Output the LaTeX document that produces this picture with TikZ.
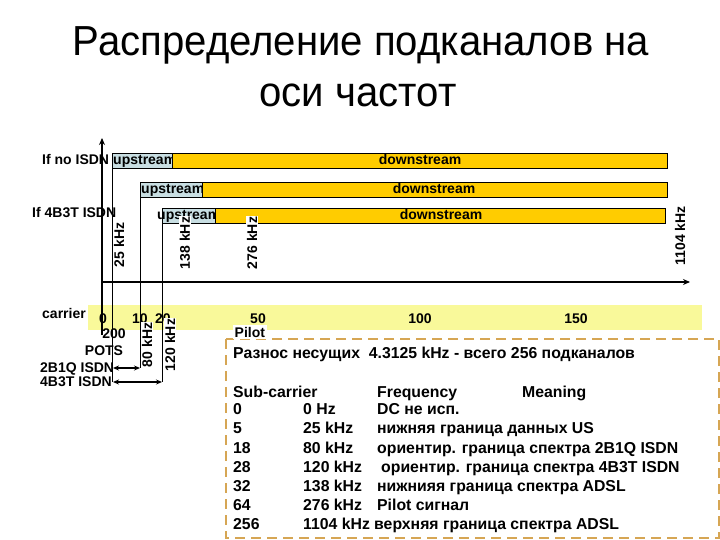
\documentclass[tikz,border=0pt]{standalone}
\usepackage{fontspec}
\setmainfont{Liberation Sans}
\usetikzlibrary{arrows.meta}
\definecolor{upfill}{RGB}{200,222,226}
\definecolor{downfill}{RGB}{255,204,0}
\definecolor{band}{RGB}{249,249,154}
\definecolor{dashc}{RGB}{214,166,84}
\begin{document}
\begin{tikzpicture}[x=1pt,y=-1pt,
  bar/.style={draw=black, line width=0.8pt, inner sep=0pt, minimum height=15pt, anchor=north west},
  upbar/.style={bar, fill=upfill},
  downbar/.style={bar, fill=downfill},
  lbl/.style={font=\fontsize{14}{16}\selectfont\bfseries, inner sep=0pt, anchor=base},
  lblw/.style={lbl, anchor=base west},
  vlbl/.style={font=\fontsize{14}{16}\selectfont\bfseries, rotate=90, fill=white, inner sep=1pt},
  tbl/.style={font=\fontsize{15.8}{17}\selectfont\bfseries, inner sep=0pt, anchor=base west},
  ttl/.style={font=\fontsize{42}{48}\selectfont, inner sep=0pt, xscale=0.955},
  axis/.style={line width=1.6pt, -{Stealth[length=7pt,width=6pt]}},
  guide/.style={line width=0.8pt},
  dbl/.style={line width=1.4pt, {Stealth[length=6pt,width=5pt]}-{Stealth[length=6pt,width=5pt]}}
]
\useasboundingbox (0,0) rectangle (720,540);
% title
\node[ttl] (t1) at (361,45) {Распределение подканалов на};
\node[ttl] (t2) at (358,95) {оси частот};

% carrier band
\fill[band] (88,305) rectangle (702,330);

% bars
\node[upbar, minimum width=60pt] (up1) at (112,153) {};
\node[lblw] (u1) at (113,165) {upstream};
\node[downbar, minimum width=495pt] (dn1) at (172,153) {};
\node[lbl] (d1) at (420,165) {downstream};

\node[upbar, minimum width=62pt] (up2) at (140,182) {};
\node[lblw] (u2) at (141,194) {upstream};
\node[downbar, minimum width=465pt] (dn2) at (202,182) {};
\node[lbl] (d2) at (434,194) {downstream};

\node[upbar, minimum width=53pt] (up3) at (162,208) {};
\node[lblw] (u3) at (157,220) {upstream};
\node[downbar, minimum width=450pt] (dn3) at (215,208) {};
\node[lbl] (d3) at (441,220) {downstream};

\node[lblw] (noisdn) at (42,165) {If no ISDN};
\node[lblw] (isdn4) at (32,218) {If 4B3T ISDN};

% guide lines
\coordinate (g25) at (112,382);
\coordinate (g80) at (140,368);
\coordinate (g120) at (162,382);
\draw[guide] (up1.south west) -- (g25);
\draw[guide] (up2.south west) -- (g80);
\draw[guide] (up3.south west) -- (g120);

% axes
\coordinate (o) at (102,282);
\coordinate (ybot) at (102,335);
\coordinate (ytop) at (102,138);
\coordinate (xend) at (690,282);
\draw[axis] (ybot) -- (ytop);
\draw[axis] (o) -- (xend);

% rotated labels
\node[vlbl] (k25) at (119,245) {25 kHz};
\node[vlbl] (k138) at (185,243) {138 kHz};
\node[vlbl] (k276) at (252,243) {276 kHz};
\node[vlbl] (k1104) at (680,236) {1104 kHz};

% carrier scale
\node[lblw] (car) at (42,318) {carrier};
\node[lbl] (c0) at (103,323) {0};
\node[lbl] (c10) at (140,323) {10};
\node[lbl] (c20) at (163,323) {20};
\node[lbl] (c50) at (258,323) {50};
\node[lbl] (c100) at (420,323) {100};
\node[lbl] (c150) at (576,323) {150};
\node[lbl] (c200) at (114,338) {200};
\node[lbl] (pots) at (104,355) {POTS};
\node[lblw] (i2b) at (40,372) {2B1Q ISDN};
\node[lblw] (i4b) at (40,386) {4B3T ISDN};
\node[vlbl] (k80) at (147,345) {80 kHz};
\node[vlbl] (k120) at (170,345) {120 kHz};

\coordinate (a2l) at (113,368);
\coordinate (a4l) at (113,382);
\draw[dbl] (a2l) -- (g80);
\draw[dbl] (a4l) -- (g120);

% dashed box
\draw[dashc, line width=1.5pt, dash pattern=on 10pt off 6pt] (226,339) rectangle (719,538);
\node[lblw, fill=white, inner sep=1.5pt] (pilot) at (233,337) {Pilot};

\node[tbl] (sp) at (233,358) {Разнос несущих\ \ 4.3125 kHz - всего 256 подканалов};
\node[tbl] (h1) at (233,397) {Sub-carrier};
\node[tbl] (h2) at (377,397) {Frequency};
\node[tbl] (h3) at (522,397) {Meaning};

\node[tbl] (r1a) at (233,414) {0};
\node[tbl] (r1b) at (303,414) {0 Hz};
\node[tbl] (r1c) at (377,414) {DC не исп.};
\node[tbl] (r2a) at (233,433) {5};
\node[tbl] (r2b) at (303,433) {25 kHz};
\node[tbl] (r2c) at (377,433) {нижняя граница данных US};
\node[tbl] (r3a) at (233,453) {18};
\node[tbl] (r3b) at (303,453) {80 kHz};
\node[tbl] (r3c) at (377,453) {ориентир. граница спектра 2B1Q ISDN};
\node[tbl] (r4a) at (233,472) {28};
\node[tbl] (r4b) at (303,472) {120 kHz};
\node[tbl] (r4c) at (381,472) {ориентир. граница спектра 4B3T ISDN};
\node[tbl] (r5a) at (233,491) {32};
\node[tbl] (r5b) at (303,491) {138 kHz};
\node[tbl] (r5c) at (377,491) {нижнияя граница спектра ADSL};
\node[tbl] (r6a) at (233,510) {64};
\node[tbl] (r6b) at (303,510) {276 kHz};
\node[tbl] (r6c) at (377,510) {Pilot сигнал};
\node[tbl] (r7a) at (233,529) {256};
\node[tbl] (r7b) at (303,529) {1104 kHz};
\node[tbl] (r7c) at (374,529) {верхняя граница спектра ADSL};
\end{tikzpicture}
\end{document}
